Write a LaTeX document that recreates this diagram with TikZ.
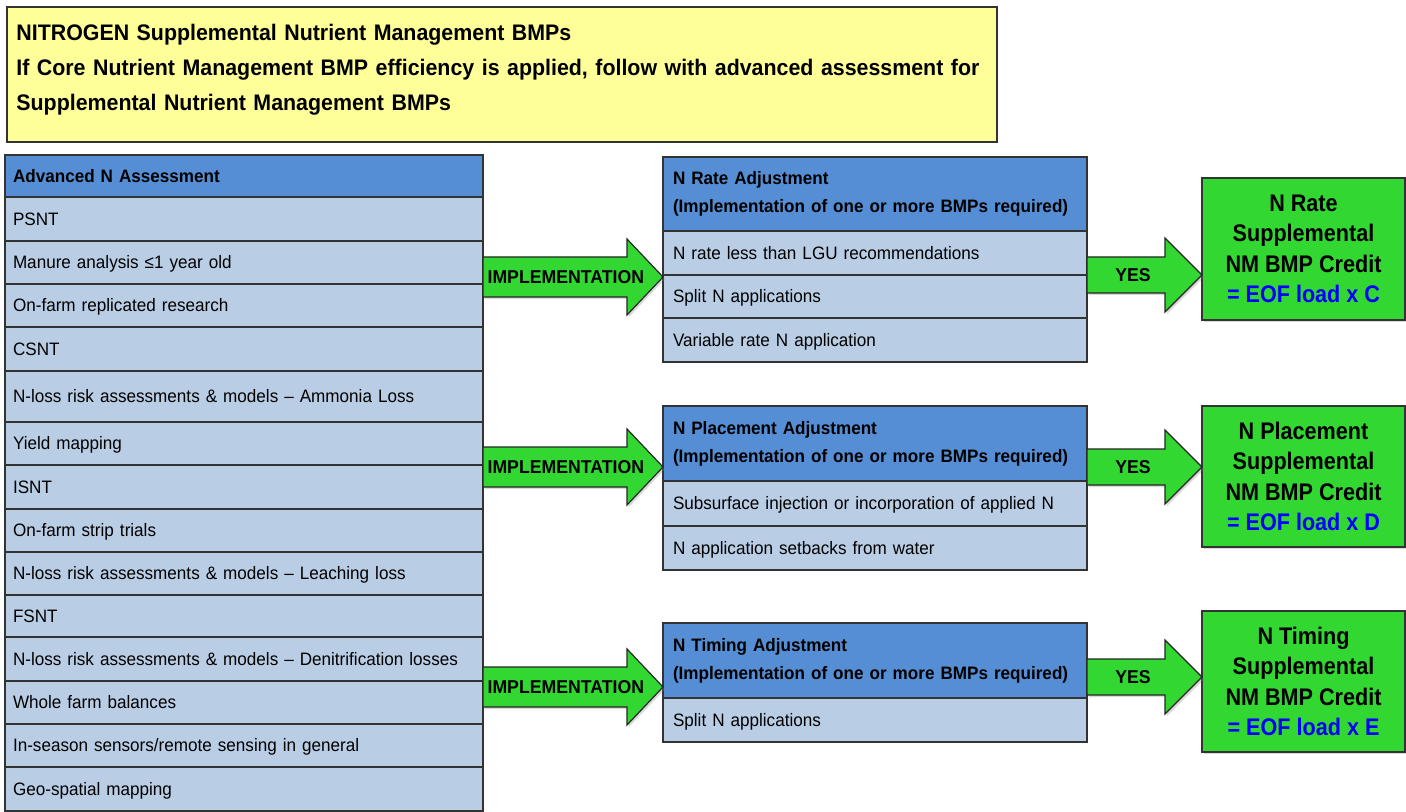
\documentclass[tikz,border=0pt]{standalone}
\usepackage{fontspec}
\setmainfont[FakeStretch=0.95]{Liberation Sans}
\newfontfamily\creditfont[FakeStretch=0.9]{Liberation Sans}
\usetikzlibrary{positioning,calc,shadows}

\definecolor{noteyellow}{RGB}{255,255,153}
\definecolor{headblue}{RGB}{85,142,213}
\definecolor{rowblue}{RGB}{185,205,229}
\definecolor{bmpgreen}{RGB}{50,215,50}
\definecolor{creditblue}{RGB}{0,0,255}

\tikzset{
  cellline/.style={draw=black!80, line width=0.6pt, outer sep=0pt},
  titlebox/.style={cellline, fill=noteyellow, minimum width=495pt, minimum height=67.5pt, inner sep=0pt},
  titletext/.style={inner sep=0pt, text width=490pt, align=left, font=\fontsize{11.25}{17.5}\selectfont\bfseries},
  leftcell/.style={cellline, minimum width=239pt, text width=231pt, inner xsep=4pt, inner ysep=0pt, align=left, text height=6.45pt, text depth=0pt},
  lefthead/.style={leftcell, fill=headblue, font=\fontsize{9}{11}\selectfont\bfseries},
  leftrow/.style={leftcell, fill=rowblue, font=\fontsize{9}{11}\selectfont},
  adjhead/.style={cellline, fill=headblue, minimum width=212pt, text width=202pt, inner xsep=5pt, inner ysep=0pt, align=left, font=\fontsize{9}{14}\selectfont\bfseries},
  adjrow/.style={cellline, fill=rowblue, minimum width=212pt, text width=202pt, inner xsep=5pt, inner ysep=0pt, align=left, text height=6.45pt, text depth=0pt, font=\fontsize{9}{11}\selectfont},
  credit/.style={cellline, fill=bmpgreen, minimum width=101.5pt, inner sep=0pt, align=center, font=\creditfont\fontsize{12}{15.25}\selectfont\bfseries, drop shadow={opacity=0.3, shadow xshift=1pt, shadow yshift=-1pt}},
  greenarrow/.style={fill=bmpgreen, draw=black!85, line width=0.6pt, line join=miter, drop shadow={opacity=0.3, shadow xshift=1pt, shadow yshift=-1pt}},
  arrowtext/.style={inner sep=0pt, font=\fontsize{9.3}{11}\selectfont\bfseries},
}

\begin{document}
\begin{tikzpicture}[x=0.5pt,y=-0.5pt]
	\useasboundingbox (0,0) rectangle (1406,812);

	% title
	\node[titlebox, anchor=north west] (title) at (7,7) {};
	\node[titletext, anchor=base west] (titletxt) at (16,40.8) {NITROGEN Supplemental Nutrient Management BMPs\\If Core Nutrient Management BMP efficiency is applied, follow with advanced assessment for\\Supplemental Nutrient Management BMPs};

	% advanced assessment
	\node[lefthead, minimum height=21pt, anchor=north west] (asm0) at (5,155) {Advanced N Assessment};
	\foreach \h/\txt [count=\i] in {44/PSNT, 43/{Manure analysis ≤1 year old}, 43/{On-farm replicated research}, 44/CSNT,
	    51/{N-loss risk assessments \& models – Ammonia Loss}, 43/{Yield mapping}, 44/ISNT, 43/{On-farm strip trials},
	    43/{N-loss risk assessments \& models – Leaching loss}, 42/FSNT, 44/{N-loss risk assessments \& models – Denitrification losses},
	    43/{Whole farm balances}, 43/{In-season sensors/remote sensing in general}, 44/{Geo-spatial mapping}} {
	     \pgfmathtruncatemacro{\j}{\i-1}
	     \node[leftrow, minimum height=\h*0.5pt, below=0pt of asm\j] (asm\i) {\txt};
	}

	% adjustments
	\node[adjhead, minimum height=37pt, anchor=north west] (rate) at (663,157) {N Rate Adjustment\\(Implementation of one or more BMPs required)};
	\node[adjrow, minimum height=22pt, below=0pt of rate] (rate1) {N rate less than LGU recommendations};
	\node[adjrow, minimum height=21.5pt, below=0pt of rate1] (rate2) {Split N applications};
	\node[adjrow, minimum height=22pt, below=0pt of rate2] (rate3) {Variable rate N application};

	\node[adjhead, minimum height=37.5pt, anchor=north west] (place) at (663,406) {N Placement Adjustment\\(Implementation of one or more BMPs required)};
	\node[adjrow, minimum height=22.5pt, below=0pt of place] (place1) {Subsurface injection or incorporation of applied N};
	\node[adjrow, minimum height=22pt, below=0pt of place1] (place2) {N application setbacks from water};

	\node[adjhead, minimum height=37.5pt, anchor=north west] (timing) at (663,623) {N Timing Adjustment\\(Implementation of one or more BMPs required)};
	\node[adjrow, minimum height=22pt, below=0pt of timing] (timing1) {Split N applications};

	% credits
	\node[credit, minimum height=71pt, anchor=north west] (rateCr) at (1202,178) {N Rate\\Supplemental\\NM BMP Credit\\\textcolor{creditblue}{= EOF load x C}};
	\node[credit, minimum height=70.5pt, anchor=north west] (placeCr) at (1202,406) {N Placement\\Supplemental\\NM BMP Credit\\\textcolor{creditblue}{= EOF load x D}};
	\node[credit, minimum height=70.5pt, anchor=north west] (timingCr) at (1202,611) {N Timing\\Supplemental\\NM BMP Credit\\\textcolor{creditblue}{= EOF load x E}};

	% block arrows
	\foreach \y/\from/\to/\sh/\hh/\hl/\txt/\p [count=\i] in {277/asm0/rate/20/38/36/IMPLEMENTATION/0.46,
	    467/asm0/place/20/38/36/IMPLEMENTATION/0.46, 687/asm0/timing/20/38/36/IMPLEMENTATION/0.46,
	    275/rate/rateCr/18/37/37/YES/0.4, 467/place/placeCr/18/37/37/YES/0.4, 677/timing/timingCr/18/37/37/YES/0.4} {
	     \coordinate (s) at (\from.east |- 0,\y);
	     \coordinate (t) at (\to.west |- 0,\y);
	     \draw[greenarrow] ($(s)+(0,-\sh)$) -- ($(t)+(-\hl,-\sh)$) -- ($(t)+(-\hl,-\hh)$) -- (t)
	         -- ($(t)+(-\hl,\hh)$) -- ($(t)+(-\hl,\sh)$) -- ($(s)+(0,\sh)$) -- cycle;
	     \path (s) -- (t) node[arrowtext, pos=\p] (lbl\i) {\txt};
	}
\end{tikzpicture}
\end{document}
